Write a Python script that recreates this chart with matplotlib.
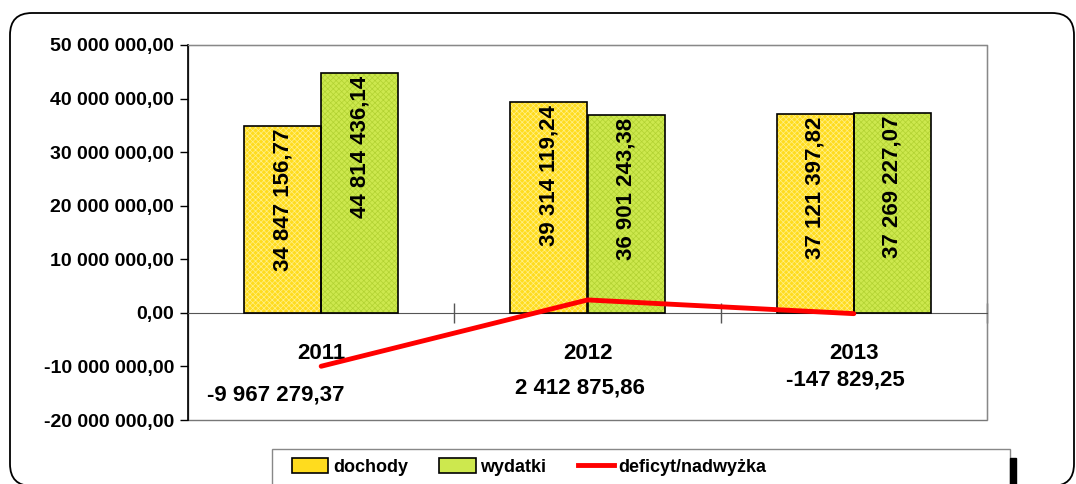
import matplotlib
matplotlib.use("Agg")
import matplotlib.pyplot as plt
from matplotlib.patches import FancyBboxPatch, Rectangle, Patch
from matplotlib.lines import Line2D
from matplotlib.transforms import IdentityTransform
import numpy as np

plt.rcParams['font.family'] = ['Liberation Sans', 'DejaVu Sans']
plt.rcParams['font.weight'] = 'bold'
plt.rcParams['hatch.linewidth'] = 0.5

# data
years = ['2011', '2012', '2013']
dochody = [34847156.77, 39314119.24, 37121397.82]
wydatki = [44814436.14, 36901243.38, 37269227.07]
saldo = [-9967279.37, 2412875.86, -147829.25]

# where the balance labels sit (Excel had them dragged by hand)
saldo_lbl_dx = [-0.17, -0.03, -0.03]
saldo_lbl_y = [-15.3e6, -14.0e6, -12.5e6]

# fill colours: base + hatch tint
doch_fc, doch_hc = '#FFDC1E', '#FFF08A'
wyd_fc, wyd_hc = '#CDE84E', '#B2D232'


def fmt(v):
    s = '{:,.2f}'.format(v)
    return s.replace(',', ' ').replace('.', ',')


W, H = 1076, 484
fig = plt.figure(figsize=(W / 100, H / 100), dpi=100)
ax = fig.add_axes([188 / W, 1 - 420 / H, (987 - 188) / W, (420 - 45) / H])

x = np.arange(len(years))
bw = 0.29

# bars: hatched fill first, black outline on top
for vals, off, fc, hc in [(dochody, -bw / 2, doch_fc, doch_hc),
                          (wydatki, bw / 2, wyd_fc, wyd_hc)]:
    ax.bar(x + off, vals, bw, color=fc, edgecolor=hc, hatch='xxxxxx', linewidth=0, zorder=2)
    ax.bar(x + off, vals, bw, fill=False, edgecolor='black', linewidth=1.2, zorder=3)
    for xi, v in zip(x + off, vals):
        ax.annotate(fmt(v), (xi, v), xytext=(0, -2), textcoords='offset points',
                    rotation=90, ha='center', va='top', fontsize=16, fontweight='bold', zorder=5)

ax.plot(x, saldo, color='#FF0000', lw=3.5, solid_capstyle='round', zorder=4)
for xi, v, dx, ly in zip(x, saldo, saldo_lbl_dx, saldo_lbl_y):
    ax.text(xi + dx, ly, fmt(v), ha='center', va='center', fontsize=16, fontweight='bold')

ax.set_xlim(-0.5, 2.5)
ax.set_ylim(-20e6, 50e6)
yt = np.arange(-20e6, 50e6 + 1, 10e6)
ax.set_yticks(yt)
ax.set_yticklabels([fmt(v) for v in yt], fontsize=14, fontweight='bold')
ax.tick_params(axis='y', direction='out', length=6, width=1, pad=4)

# category axis runs through zero
ax.spines['bottom'].set_position(('data', 0))
ax.spines['bottom'].set_color('#555555')
ax.set_xticks(x)
ax.set_xticklabels(years, fontsize=16, fontweight='bold')
ax.set_xticks([0.5, 1.5, 2.5], minor=True)
ax.tick_params(axis='x', which='major', length=0, pad=22)
ax.tick_params(axis='x', which='minor', direction='inout', length=14, width=1, color='#555555')
for s in ['top', 'right']:
    ax.spines[s].set_color('#888888')
ax.spines['left'].set_linewidth(1.2)
ax.add_patch(Rectangle((0, 0), 1, 1, transform=ax.transAxes, fill=False, clip_on=False,
                       edgecolor='#777777', lw=1, zorder=1))

# rounded outer frame (pixel coords)
px = IdentityTransform()
fig.patches.append(FancyBboxPatch((10, -2), 1064, 473, boxstyle='round,pad=0,rounding_size=22',
                                  transform=px, fill=False, edgecolor='black', lw=1.3, figure=fig))

# legend box drawn by hand, with black shadow strip on the right
fig.patches.append(Rectangle((272, -5), 1010 - 272, H - 449 + 5, transform=px,
                             facecolor='white', edgecolor='#888888', lw=1, figure=fig))
fig.patches.append(Rectangle((1010, 0), 6, H - 458, transform=px, color='black', figure=fig))
handles = [Patch(facecolor=doch_fc, edgecolor='black', lw=1.2),
           Patch(facecolor=wyd_fc, edgecolor='black', lw=1.2),
           Line2D([], [], color='#FF0000', lw=3.5)]
leg = fig.legend(handles, ['dochody', 'wydatki', 'deficyt/nadwyżka'], ncol=3,
                 loc='center left', bbox_to_anchor=(285 / W, 1 - 467 / H),
                 prop={'weight': 'bold', 'size': 13}, frameon=False,
                 handlelength=2.0, handleheight=0.9, handletextpad=0.25,
                 borderaxespad=0, columnspacing=1.75)

fig.savefig('out.png', dpi=100)
